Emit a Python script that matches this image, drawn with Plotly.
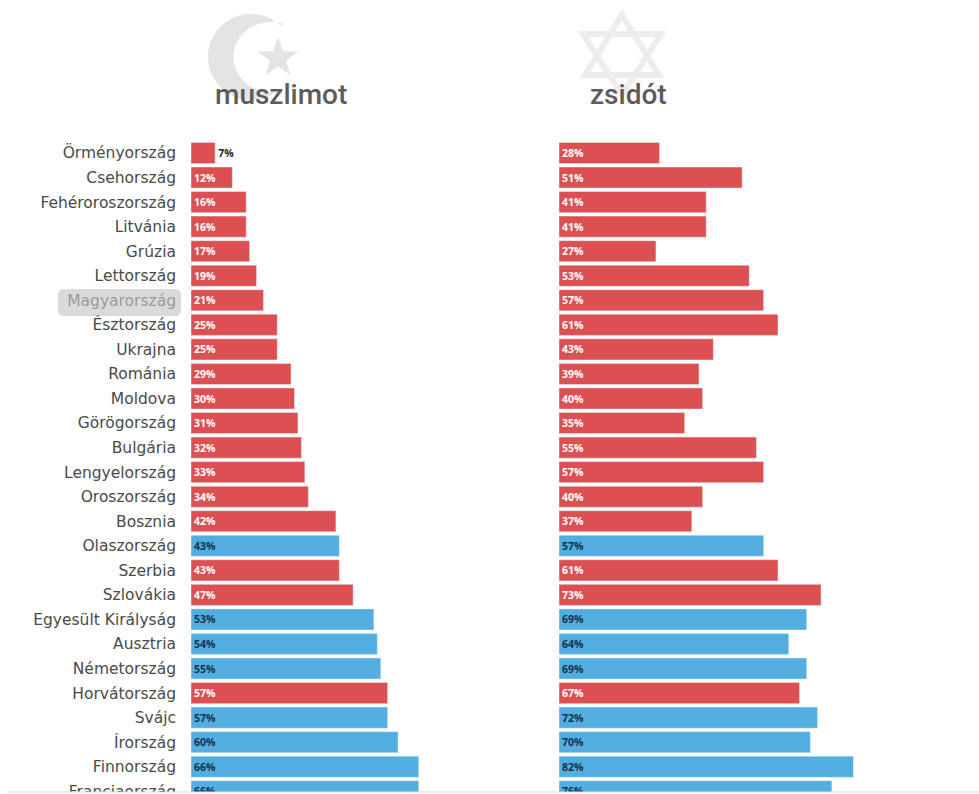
import numpy as np
import plotly.graph_objects as go

countries = ["Örményország", "Csehország", "Fehéroroszország", "Litvánia", "Grúzia", "Lettország",
             "Magyarország", "Észtország", "Ukrajna", "Románia", "Moldova", "Görögország", "Bulgária",
             "Lengyelország", "Oroszország", "Bosznia", "Olaszország", "Szerbia", "Szlovákia",
             "Egyesült Királyság", "Ausztria", "Németország", "Horvátország", "Svájc", "Írország",
             "Finnország", "Franciaország"]
muslim = [7, 12, 16, 16, 17, 19, 21, 25, 25, 29, 30, 31, 32, 33, 34, 42, 43, 43, 47, 53, 54, 55, 57, 57, 60, 66, 66]
jewish = [28, 51, 41, 41, 27, 53, 57, 61, 43, 39, 40, 35, 55, 57, 40, 37, 57, 61, 73, 69, 64, 69, 67, 72, 70, 82, 76]
west = [0, 0, 0, 0, 0, 0, 0, 0, 0, 0, 0, 0, 0, 0, 0, 0, 1, 0, 0, 1, 1, 1, 0, 1, 1, 1, 1]
highlight = "Magyarország"

W, H = 979, 794
RED, BLUE = "#DC5052", "#52AEE0"
NAVY = "#12314F"
bar_colors = [BLUE if w else RED for w in west]
text_colors = [NAVY if w else "white" for w in west]


def px(x):
    return x / W


def py(y):
    return 1 - y / H


def poly(points):
    return "M " + " L ".join(f"{px(x):.5f},{py(y):.5f}" for x, y in points) + " Z"


def label(v):
    return [f"{n}%" for n in v]


ticktext = [f'<span style="color:#9a9a9a">{c}</span>' if c == highlight else c for c in countries]
order = list(range(len(countries)))

fig = go.Figure()
fig.add_bar(y=order, x=muslim, orientation="h", marker_color=bar_colors, width=0.86,
            text=label(muslim), textposition=["outside"] + ["inside"] * (len(muslim) - 1),
            insidetextanchor="start", textangle=0, constraintext="none",
            textfont=dict(family="Open Sans", size=10.5, weight=700, color=["#222"] + text_colors[1:]),
            xaxis="x", yaxis="y")
fig.add_bar(y=order, x=jewish, orientation="h", marker_color=bar_colors, width=0.86,
            text=label(jewish), textposition="inside",
            insidetextanchor="start", textangle=0, constraintext="none",
            textfont=dict(family="Open Sans", size=10.5, weight=700, color=text_colors),
            xaxis="x2", yaxis="y2")

# Decorative icons
a_out = np.radians(np.linspace(-47, -313, 80))
outer = [(251 + 43 * np.cos(a), 57 + 43 * np.sin(a)) for a in a_out]
a_in = np.radians(np.linspace(-290, -70, 80))
inner = [(271 + 37.5 * np.cos(a), 57 + 35 * np.sin(a)) for a in a_in]
star = []
for k in range(10):
    r = 21 if k % 2 == 0 else 8.5
    ang = np.radians(-90 + 36 * k)
    star.append((278 + r * np.cos(ang), 58 + r * np.sin(ang)))

ICON = "#E4E4E4"
shapes = [
    dict(type="path", path=poly(outer + inner), xref="paper", yref="paper", fillcolor=ICON,
         line_width=0, layer="below"),
    dict(type="path", path=poly(star), xref="paper", yref="paper", fillcolor=ICON,
         line_width=0, layer="below"),
    dict(type="path", path=poly([(622, 15), (659, 75), (585, 75)]), xref="paper", yref="paper",
         fillcolor="rgba(0,0,0,0)", line=dict(color="#EDEDED", width=6), layer="below"),
    dict(type="path", path=poly([(583, 34), (661, 34), (622, 95)]), xref="paper", yref="paper",
         fillcolor="rgba(0,0,0,0)", line=dict(color="#EDEDED", width=6), layer="below"),
    # highlight pill behind Magyarország
    dict(type="path",
         path=(f"M {px(64)},{py(289)} L {px(175)},{py(289)} Q {px(181)},{py(289)} {px(181)},{py(295)} "
               f"L {px(181)},{py(310)} Q {px(181)},{py(316)} {px(175)},{py(316)} "
               f"L {px(64)},{py(316)} Q {px(58)},{py(316)} {px(58)},{py(310)} "
               f"L {px(58)},{py(295)} Q {px(58)},{py(289)} {px(64)},{py(289)} Z"),
         xref="paper", yref="paper", fillcolor="#DADADA", line_width=0, layer="below"),
    # page-bottom cut
    dict(type="rect", xref="paper", yref="paper", x0=0, x1=1, y0=0, y1=py(792),
         fillcolor="white", line_width=0, layer="above"),
    dict(type="line", xref="paper", yref="paper", x0=px(7), x1=1, y0=py(792), y1=py(792),
         line=dict(color="#DDDDDD", width=1), layer="above"),
]

annotations = [
    dict(text="muszlimot", x=px(281), y=py(94), xref="paper", yref="paper", showarrow=False,
         xanchor="center", yanchor="middle",
         font=dict(family="Roboto", size=28, weight=500, color="#5c5c5c")),
    dict(text="zsidót", x=px(628), y=py(94), xref="paper", yref="paper", showarrow=False,
         xanchor="center", yanchor="middle",
         font=dict(family="Roboto", size=28, weight=500, color="#5c5c5c")),
]

ROW, FIRST = 24.55, 153
y_top = -FIRST / ROW
y_bottom = (792 - FIRST) / ROW

fig.update_layout(
    width=W, height=H, margin=dict(l=0, r=0, t=0, b=0, autoexpand=False), autosize=False,
    paper_bgcolor="white", plot_bgcolor="rgba(0,0,0,0)", showlegend=False, barmode="overlay",
    hovermode=False, shapes=shapes, annotations=annotations,
    font=dict(family="Open Sans"),
    xaxis=dict(domain=[px(191), px(540)], range=[0, 349 / 3.45], visible=False, anchor="y"),
    xaxis2=dict(domain=[px(559), 1], range=[0, 420 / 3.59], visible=False, anchor="y2"),
    yaxis=dict(domain=[1 - 792 / H, 1], range=[y_bottom, y_top], tickmode="array", tickvals=order,
               ticktext=ticktext, showgrid=False, zeroline=False, showline=False, ticks="",
               ticklabelstandoff=14, ticklabeloverflow="allow",
               tickfont=dict(family="DejaVu Sans", size=15.5, color="#4a4a4a"),
               anchor="x"),
    yaxis2=dict(domain=[1 - 792 / H, 1], range=[y_bottom, y_top], showticklabels=False, showgrid=False,
                zeroline=False, showline=False, ticks="", anchor="x2"),
)

fig.write_html("out.html", config={"displayModeBar": False},
               post_script="document.body.style.margin='0';document.body.style.overflow='hidden';")
